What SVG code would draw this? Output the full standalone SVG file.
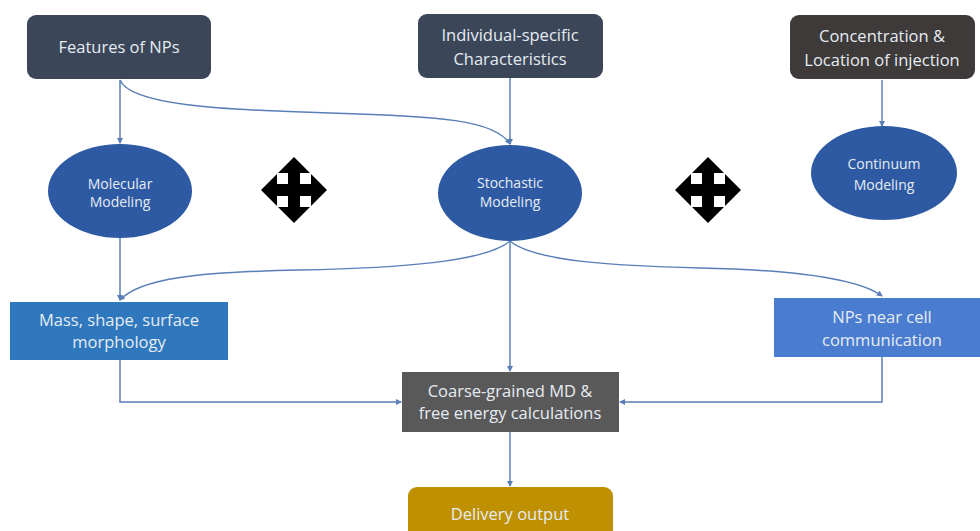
<svg xmlns="http://www.w3.org/2000/svg" width="980" height="531" viewBox="0 0 980 531">
<defs>
<marker id="ah" markerWidth="6" markerHeight="6" refX="5" refY="3" orient="auto" markerUnits="userSpaceOnUse">
<path d="M0,0 L6,3 L0,6 Z" fill="#5a7fb8"/>
</marker>
<path id="move" d="M0,-33 L16,-17 L6,-17 L6,-6 L17,-6 L17,-16 L33,0 L17,16 L17,6 L6,6 L6,17 L16,17 L0,33 L-16,17 L-6,17 L-6,6 L-17,6 L-17,16 L-33,0 L-17,-16 L-17,-6 L-6,-6 L-6,-17 L-16,-17 Z"/>
</defs>
<style>
text{font-family:"Open Sans","Liberation Sans",sans-serif;fill:#e6ecf3;text-anchor:middle;}
.t{font-size:16.5px;}
.e{font-size:14px;}
.c{fill:none;stroke:#5a7fb8;stroke-width:1.5;marker-end:url(#ah);}
</style>
<rect width="980" height="531" fill="#ffffff"/>
<g id="connectors">
<path class="c" d="M120,80 L120,143"/>
<path class="c" d="M120,80 C130,105 220,110 330,113 C440,116 495,120 510,144"/>
<path class="c" d="M510,78 L510,144"/>
<path class="c" d="M882,80 L882,126"/>
<path class="c" d="M120,238 L120,300"/>
<path class="c" d="M510,241 C485,262 400,268 300,270 C200,272 140,278 120,300"/>
<path class="c" d="M510,241 C535,262 620,266 700,268 C800,270 860,280 882,296"/>
<path class="c" d="M510,241 L510,371"/>
<path class="c" d="M120,360 L120,402 L401,402"/>
<path class="c" d="M882,357 L882,402 L620,402"/>
<path class="c" d="M510,432 L510,486"/>
</g>
<g id="features">
<rect x="27" y="15" width="184" height="64" rx="9" fill="#3b4658"/>
<text class="t" x="119" y="53">Features of NPs</text>
</g>
<g id="individual">
<rect x="418" y="14" width="185" height="64" rx="9" fill="#3b4658"/>
<text class="t" x="510" y="41">Individual-specific</text>
<text class="t" x="510" y="65">Characteristics</text>
</g>
<g id="concentration">
<rect x="790" y="15" width="185" height="64" rx="9" fill="#3d3a39"/>
<text class="t" x="882" y="42">Concentration &amp;</text>
<text class="t" x="882" y="66">Location of injection</text>
</g>
<g id="molecular">
<ellipse cx="120" cy="191" rx="72" ry="47" fill="#2e5aa3"/>
<text class="e" x="120" y="189">Molecular</text>
<text class="e" x="120" y="207">Modeling</text>
</g>
<g id="stochastic">
<ellipse cx="510" cy="193" rx="72" ry="48" fill="#2e5aa3"/>
<text class="e" x="510" y="188">Stochastic</text>
<text class="e" x="510" y="207">Modeling</text>
</g>
<g id="continuum">
<ellipse cx="884" cy="173" rx="73" ry="47" fill="#2e5aa3"/>
<text class="e" x="884" y="169">Continuum</text>
<text class="e" x="884" y="190">Modeling</text>
</g>
<g id="move1">
<use href="#move" transform="translate(294,190)" fill="#000000"/>
</g>
<g id="move2">
<use href="#move" transform="translate(708,190)" fill="#000000"/>
</g>
<g id="mass">
<rect x="10" y="302" width="218" height="58" fill="#2f78bd"/>
<text class="t" x="119" y="326">Mass, shape, surface</text>
<text class="t" x="119" y="348">morphology</text>
</g>
<g id="npsnear">
<rect x="774" y="298" width="206" height="59" fill="#4a7dcf"/>
<text class="t" x="882" y="323">NPs near cell</text>
<text class="t" x="882" y="346">communication</text>
</g>
<g id="coarse">
<rect x="402" y="372" width="217" height="60" fill="#595959"/>
<text class="t" x="510" y="397">Coarse-grained MD &amp;</text>
<text class="t" x="510" y="419">free energy calculations</text>
</g>
<g id="delivery">
<rect x="408" y="487" width="205" height="60" rx="9" fill="#bf9000"/>
<text class="t" x="510" y="520">Delivery output</text>
</g>
</svg>
